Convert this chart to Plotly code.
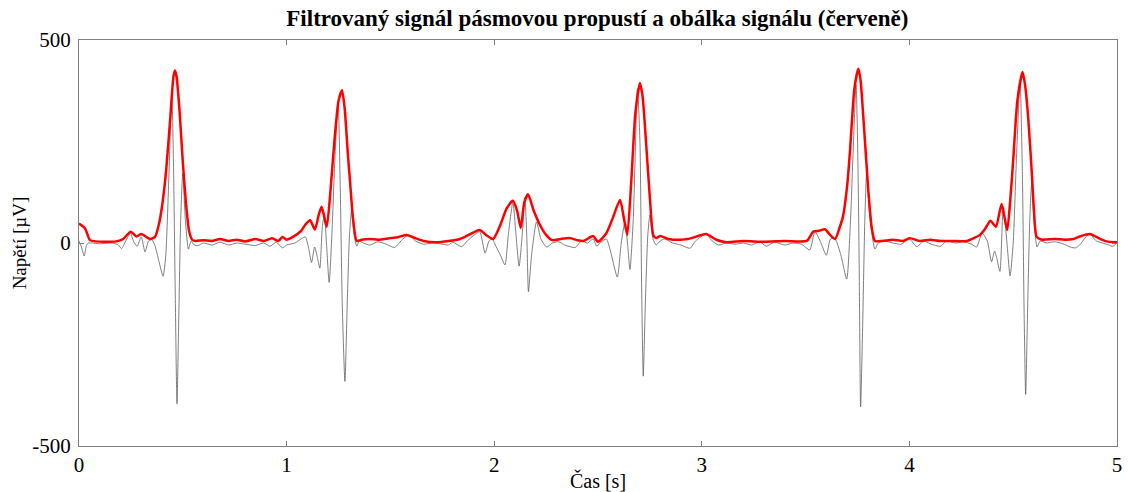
import plotly.graph_objects as go

# Filtered signal (time [s], voltage [uV])
sig_t = [0.000, 0.012, 0.025, 0.035, 0.045, 0.10, 0.16, 0.19, 0.205, 0.225, 0.248, 0.262, 0.28, 0.300, 0.318, 0.335, 0.350, 0.365,
         0.385, 0.405, 0.418, 0.432, 0.447, 0.455, 0.463, 0.472, 0.480, 0.490, 0.500, 0.512, 0.527, 0.540, 0.555,
         0.574, 0.60, 0.64, 0.68, 0.72, 0.76, 0.80, 0.85, 0.89, 0.92, 0.95, 0.98, 1.00, 1.04, 1.07, 1.09, 1.105, 1.12, 1.135,
         1.148, 1.16, 1.172, 1.182, 1.192, 1.205, 1.218, 1.232, 1.248, 1.258, 1.268, 1.281, 1.292, 1.303, 1.313, 1.325, 1.338,
         1.35, 1.37, 1.40, 1.44, 1.48, 1.52, 1.56, 1.59, 1.62, 1.66, 1.70, 1.74, 1.78, 1.80, 1.843, 1.87, 1.90, 1.93, 1.956,
         1.975, 1.99, 2.01, 2.03, 2.052, 2.068, 2.09, 2.105, 2.12, 2.135, 2.148, 2.158, 2.165, 2.18, 2.204, 2.225, 2.253,
         2.28, 2.31, 2.34, 2.39, 2.42, 2.45, 2.476, 2.494, 2.51, 2.54, 2.56, 2.593, 2.612, 2.63, 2.642, 2.654, 2.67, 2.69,
         2.702, 2.71, 2.718, 2.728, 2.74, 2.75, 2.765, 2.78, 2.80, 2.82, 2.86, 2.90, 2.943, 2.97, 3.02, 3.05, 3.08, 3.12,
         3.16, 3.20, 3.24, 3.28, 3.31, 3.35, 3.40, 3.44, 3.48, 3.52, 3.545, 3.57, 3.60, 3.62, 3.642, 3.67, 3.698, 3.715,
         3.743, 3.752, 3.758, 3.765, 3.775, 3.785, 3.794, 3.81, 3.834, 3.85, 3.88, 3.92, 3.96, 4.00, 4.035, 4.07, 4.10,
         4.15, 4.18, 4.22, 4.26, 4.30, 4.324, 4.35, 4.375, 4.396, 4.41, 4.42, 4.436, 4.452, 4.47, 4.485, 4.50, 4.515,
         4.533, 4.545, 4.552, 4.56, 4.57, 4.58, 4.589, 4.60, 4.615, 4.63, 4.66, 4.70, 4.74, 4.775, 4.80, 4.82, 4.85,
         4.87, 4.90, 4.93, 4.96, 4.98, 5.00]
sig_v = [5, -10, -32, -8, 0, -2, 0, -5, -14, 5, 24, 5, -8, 15, -22, 5, 8, -5,
         -45, -82, -30, 150, 370, 200, -100, -396, -200, 60, 172, 60, -15, 5, -5,
         -6, 0, -5, 2, -5, 0, -3, -6, 0, -8, 2, -12, -5, 0, 10, 15, -10, -48, -10,
         -35, -62, 40, 70, 0, -97, 20, 200, 350, 150, -150, -341, -150, 20, 81, 20, -8,
         5, 0, -5, 3, -3, -11, 10, 20, 5, -3, 0, -2, -5, 2, -9, 5, 18, 28, -25,
         5, 10, -10, -30, -54, 20, 100, 20, -57, 20, 112, 0, -120, -30, 52, 10, -10,
         0, 3, -5, -11, 5, 0, 10, -8, 0, 10, -20, -84, 0, 52, 0, -65, 60, 380,
         250, -100, -328, -150, 20, 69, 10, -5, 5, 10, 0, -5, -13, 5, 22, 5, -5, 0,
         -3, 0, -5, 3, -8, 2, -5, 0, -3, -17, 28, 5, -30, 10, 10, -30, -89, 40,
         390, 200, -50, -404, -200, 50, 171, 60, -15, 0, 5, 0, -3, 10, -9, 5, -2,
         -8, 5, 0, 3, -3, -10, 25, 5, -46, -20, -35, -70, 90, 0, -81, 0, 200,
         400, 150, -150, -373, -150, 60, 147, 60, -10, 5, 0, 3, -2, -10, -12, -5, 15,
         22, 5, 0, -5, -8, 0]

# Envelope (red)
env_t = [0.0, 0.029, 0.053, 0.08, 0.12, 0.18, 0.213, 0.249, 0.277, 0.300, 0.342, 0.366, 0.382, 0.40, 0.42, 0.44, 0.455,
         0.462, 0.47, 0.485, 0.50, 0.515, 0.53, 0.545, 0.56, 0.60, 0.64, 0.68, 0.72, 0.76, 0.80, 0.85, 0.89, 0.93, 0.96,
         0.98, 1.00, 1.03, 1.07, 1.09, 1.113, 1.136, 1.155, 1.169, 1.193, 1.21, 1.23, 1.25, 1.267, 1.28, 1.295, 1.305,
         1.32, 1.338, 1.36, 1.40, 1.44, 1.50, 1.54, 1.578, 1.62, 1.66, 1.72, 1.78, 1.835, 1.87, 1.93, 1.96, 1.995, 2.03,
         2.06, 2.09, 2.11, 2.128, 2.145, 2.163, 2.19, 2.22, 2.25, 2.28, 2.32, 2.365, 2.40, 2.43, 2.476, 2.50, 2.54, 2.57,
         2.606, 2.625, 2.641, 2.66, 2.68, 2.702, 2.715, 2.735, 2.75, 2.766, 2.78, 2.80, 2.84, 2.90, 2.95, 3.02, 3.07,
         3.12, 3.20, 3.30, 3.40, 3.505, 3.537, 3.565, 3.593, 3.618, 3.642, 3.665, 3.68, 3.70, 3.714, 3.735, 3.754, 3.765,
         3.778, 3.79, 3.802, 3.818, 3.834, 3.87, 3.92, 3.97, 4.00, 4.05, 4.10, 4.15, 4.20, 4.276, 4.31, 4.34, 4.365,
         4.39, 4.417, 4.444, 4.471, 4.485, 4.50, 4.52, 4.545, 4.557, 4.572, 4.59, 4.60, 4.613, 4.64, 4.70, 4.75, 4.79,
         4.82, 4.87, 4.90, 4.95, 5.0]
env_v = [48, 36, 7, 4, 3, 4, 10, 28, 16, 22, 10, 15, 40, 90, 180, 310, 410,
         425, 410, 320, 200, 100, 30, 8, 5, 7, 5, 10, 5, 8, 4, 10, 5, 12, 5,
         15, 8, 15, 30, 45, 56, 33, 70, 89, 40, 120, 250, 350, 376, 330, 220, 155,
         60, 5, 8, 10, 8, 12, 15, 20, 12, 5, 2, 5, 10, 18, 32, 20, 10, 45,
         85, 104, 80, 37, 100, 120, 80, 45, 20, 7, 10, 12, 7, 5, 17, 3, 24, 60,
         106, 60, 20, 150, 320, 394, 360, 221, 110, 20, 12, 17, 10, 8, 12, 22, 8,
         2, 5, 3, 5, 5, 28, 30, 34, 20, 10, 40, 65, 140, 228, 380, 429, 400,
         310, 220, 130, 40, 5, 5, 8, 5, 12, 5, 8, 5, 5, 5, 12, 20, 35,
         55, 40, 96, 32, 100, 204, 350, 421, 390, 310, 170, 80, 15, 8, 10, 8, 10,
         16, 22, 15, 4, 2]

x_ticks = [0, 1, 2, 3, 4, 5]
y_ticks = [-500, 0, 500]

FONT = "Liberation Serif, Times New Roman, serif"

fig = go.Figure()
fig.add_trace(go.Scatter(x=sig_t, y=sig_v, mode="lines",
                         line=dict(color="#606060", width=0.8, shape="spline", smoothing=0.6),
                         showlegend=False, hoverinfo="skip"))
fig.add_trace(go.Scatter(x=env_t, y=env_v, mode="lines",
                         line=dict(color="#ff0000", width=2.5, shape="spline", smoothing=0.6),
                         showlegend=False, hoverinfo="skip"))

axis_common = dict(showline=True, mirror="ticks", linecolor="#808080", linewidth=1,
                   ticks="inside", ticklen=5, tickcolor="#808080", showgrid=False,
                   zeroline=False, automargin=False,
                   tickfont=dict(family=FONT, size=21, color="black"))

fig.update_xaxes(range=[0, 5], tickvals=x_ticks, ticktext=[str(v) for v in x_ticks],
                 ticklabelstandoff=0,
                 title=dict(text="Čas [s]", font=dict(family=FONT, size=20, color="black"), standoff=0),
                 **axis_common)
fig.update_yaxes(range=[-500, 500], tickvals=y_ticks, ticktext=[str(v) for v in y_ticks],
                 ticklabelstandoff=3,
                 title=dict(text="Napětí [µV]", font=dict(family=FONT, size=19, color="black"), standoff=0),
                 **axis_common)

fig.update_layout(
    width=1128, height=492,
    margin=dict(l=79, r=11, t=40, b=46),
    paper_bgcolor="white", plot_bgcolor="white",
    title=dict(text="<b>Filtrovaný signál pásmovou propustí a obálka signálu (červeně)</b>",
               font=dict(family=FONT, size=23, color="black"),
               x=0.5296, xanchor="center", y=0.963, yanchor="middle"),
)

fig.write_html("out.html", config={"displayModeBar": False},
               post_script="document.body.style.margin='0';document.body.style.overflow='hidden';")
